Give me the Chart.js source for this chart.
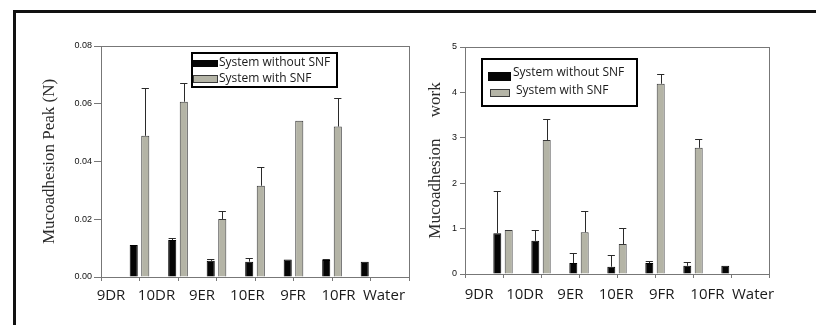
<!DOCTYPE html>
<html>
<head>
<meta charset="utf-8">
<script src="https://cdn.jsdelivr.net/npm/chart.js@4.4.1/dist/chart.umd.min.js"></script>
<style>
  html, body { margin: 0; padding: 0; background: #fff; }
  body { width: 816px; height: 325px; position: relative; overflow: hidden; }
  .frame { position: absolute; left: 13px; top: 10px; width: 900px; height: 400px;
           border-top: 3px solid #111; border-left: 3px solid #111; }
  .panel { position: absolute; top: 0; height: 325px; }
  #peakPanel { left: 0; width: 412px; }
  #workPanel { left: 410px; width: 406px; }
</style>
</head>
<body>
<div class="frame"></div>
<div class="panel" id="peakPanel"><canvas id="peakChart"></canvas></div>
<div class="panel" id="workPanel"><canvas id="workChart"></canvas></div>

<script>
// categories
const groups = ['9DR', '10DR', '9ER', '10ER', '9FR', '10FR', 'Water'];
const seriesNames = ['System without SNF', 'System with SNF'];

// mucoadhesion peak (N)
const peakWithout = [0.0111, 0.0128, 0.0056, 0.0053, 0.0061, 0.0059, 0.0053];
const peakWithoutErr = [0, 0.0008, 0.0005, 0.0014, 0, 0.0003, 0];
const peakWith = [0.0489, 0.0607, 0.0201, 0.0316, 0.0541, 0.0521, null];
const peakWithErr = [0.0165, 0.0064, 0.0029, 0.0066, 0, 0.0098, 0];
const peakTicks = [0, 0.02, 0.04, 0.06, 0.08];

// mucoadhesion work
const workWithout = [0.90, 0.73, 0.24, 0.16, 0.24, 0.18, 0.18];
const workWithoutErr = [0.93, 0.24, 0.23, 0.26, 0.05, 0.08, 0];
const workWith = [0.97, 2.95, 0.92, 0.66, 4.19, 2.78, null];
const workWithErr = [0, 0.46, 0.47, 0.36, 0.22, 0.20, 0];
const workTicks = [0, 1, 2, 3, 4, 5];

const colors = {
  without: '#050505',
  withFill: '#b4b4a6',
  withBorder: '#3a3a3a',
  axis: '#777',
  error: '#2a2a2a',
  text: '#1a1a1a',
};

// pad with an empty slot at each end so groups sit on ticks 1..7 of 0..8
const pad = (arr) => [null, ...arr, null];

const errorBars = {
  id: 'errorBars',
  afterDatasetsDraw(chart) {
    const { ctx } = chart;
    const yScale = chart.scales.y;
    chart.data.datasets.forEach((ds, di) => {
      const meta = chart.getDatasetMeta(di);
      (ds.errors || []).forEach((err, i) => {
        const bar = meta.data[i];
        const value = ds.data[i];
        if (!bar || value == null || !err) return;
        const yBase = yScale.getPixelForValue(value);
        const yTop = yScale.getPixelForValue(value + err);
        const half = bar.width * 0.45;
        ctx.save();
        ctx.strokeStyle = colors.error;
        ctx.lineWidth = 1;
        ctx.beginPath();
        ctx.moveTo(Math.round(bar.x) + 0.5, yBase);
        ctx.lineTo(Math.round(bar.x) + 0.5, Math.round(yTop) + 0.5);
        ctx.moveTo(bar.x - half, Math.round(yTop) + 0.5);
        ctx.lineTo(bar.x + half, Math.round(yTop) + 0.5);
        ctx.stroke();
        ctx.restore();
      });
    });
  },
};

const plotFrame = {
  id: 'plotFrame',
  beforeDatasetsDraw(chart) {
    const { ctx, chartArea: a } = chart;
    ctx.save();
    ctx.strokeStyle = colors.axis;
    ctx.lineWidth = 1;
    ctx.strokeRect(Math.round(a.left) + 0.5, Math.round(a.top) + 0.5,
      Math.round(a.right - a.left), Math.round(a.bottom - a.top));
    ctx.restore();
  },
};

const boxLegend = {
  id: 'boxLegend',
  afterDraw(chart, args, opts) {
    if (!opts || !opts.box) return;
    const { ctx } = chart;
    const [bx, by, bw, bh] = opts.box;
    ctx.save();
    ctx.fillStyle = '#fff';
    ctx.fillRect(bx, by, bw, bh);
    ctx.strokeStyle = '#000';
    ctx.lineWidth = 2;
    ctx.strokeRect(bx + 1, by + 1, bw - 2, bh - 2);
    ctx.font = opts.font;
    ctx.textBaseline = 'middle';
    ctx.textAlign = 'left';
    chart.data.datasets.forEach((ds, i) => {
      const row = opts.rows[i];
      const [sx, sy, sw, sh] = row.swatch;
      ctx.fillStyle = ds.backgroundColor;
      ctx.fillRect(sx, sy, sw, sh);
      if (ds.borderColor && ds.backgroundColor !== colors.without) {
        ctx.strokeStyle = ds.borderColor;
        ctx.lineWidth = 1;
        ctx.strokeRect(sx + 0.5, sy + 0.5, sw - 1, sh - 1);
      }
      ctx.fillStyle = colors.text;
      ctx.fillText(ds.label, row.text[0], row.text[1]);
    });
    ctx.restore();
  },
};

function buildChart(canvasId, cfg) {
  const ctx = document.getElementById(canvasId);
  return new Chart(ctx, {
    type: 'bar',
    data: {
      labels: pad(groups).map((g) => g || ''),
      datasets: [
        {
          label: seriesNames[0],
          data: pad(cfg.without),
          errors: pad(cfg.withoutErr),
          backgroundColor: colors.without,
          borderColor: '#000',
          borderWidth: 1,
          categoryPercentage: 0.6,
          barPercentage: 0.7,
        },
        {
          label: seriesNames[1],
          data: pad(cfg.with),
          errors: pad(cfg.withErr),
          backgroundColor: colors.withFill,
          borderColor: colors.withBorder,
          borderWidth: 1,
          categoryPercentage: 0.6,
          barPercentage: 0.7,
        },
      ],
    },
    options: {
      responsive: true,
      maintainAspectRatio: false,
      animation: false,
      layout: { padding: cfg.padding },
      scales: {
        x: {
          type: 'category',
          position: 'bottom',
          offset: false,
          ticks: { display: false },
          grid: {
            display: true,
            offset: false,
            drawOnChartArea: false,
            drawTicks: true,
            tickLength: 4,
            color: colors.axis,
          },
          border: { display: false },
          afterFit: (s) => { s.height = 4; },
        },
        // the printed group names sit on their own spacing, apart from the bar ticks
        xl: {
          type: 'linear',
          position: 'bottom',
          offset: false,
          min: cfg.labelRange[0],
          max: cfg.labelRange[1],
          afterBuildTicks: (s) => { s.ticks = groups.map((_, i) => ({ value: i })); },
          ticks: {
            autoSkip: false,
            maxRotation: 0,
            padding: cfg.labelPadding,
            color: colors.text,
            font: { family: 'Open Sans', size: 15 },
            callback: (v) => groups[v],
          },
          grid: { display: false, drawTicks: false, offset: false },
          border: { display: false },
          afterFit: (s) => { s.height = cfg.labelHeight; },
        },
        y: {
          min: cfg.yTicks[0],
          max: cfg.yTicks[cfg.yTicks.length - 1],
          afterBuildTicks: (s) => { s.ticks = cfg.yTicks.map((v) => ({ value: v })); },
          ticks: {
            padding: cfg.yTickPadding,
            color: '#111',
            font: { family: 'Liberation Sans', size: 9 },
            callback: cfg.yFormat,
          },
          grid: {
            display: true,
            drawOnChartArea: false,
            drawTicks: true,
            tickLength: cfg.yTickLength,
            color: colors.axis,
          },
          border: { display: false },
          title: {
            display: true,
            text: cfg.yTitle,
            color: '#2a2a2a',
            font: { family: 'Liberation Serif', size: 17 },
            padding: { top: cfg.titlePad, bottom: 0 },
          },
          afterFit: (s) => { s.width = cfg.yWidth; },
        },
      },
      plugins: {
        legend: { display: false },
        tooltip: { enabled: false },
        boxLegend: cfg.legend,
      },
    },
    plugins: [plotFrame, errorBars, boxLegend],
  });
}

buildChart('peakChart', {
  without: peakWithout,
  withoutErr: peakWithoutErr,
  with: peakWith,
  withErr: peakWithErr,
  yTicks: peakTicks,
  yFormat: (v) => Number(v).toFixed(2),
  yTitle: 'Mucoadhesion Peak (N)',
  yWidth: 101,
  yTickLength: 7,
  yTickPadding: 2,
  titlePad: 39,
  padding: { top: 46, right: 3, left: 0, bottom: 0 },
  labelRange: [-0.22, 6.55],
  labelHeight: 44,
  labelPadding: 6,
  legend: {
    box: [191, 52, 147, 36],
    font: '12px "Open Sans"',
    rows: [
      { swatch: [193, 60, 25, 7], text: [219, 63] },
      { swatch: [193, 75, 25, 8], text: [219, 79] },
    ],
  },
});

buildChart('workChart', {
  without: workWithout,
  withoutErr: workWithoutErr,
  with: workWith,
  withErr: workWithErr,
  yTicks: workTicks,
  yFormat: (v) => String(v),
  yTitle: 'Mucoadhesion     work',
  yWidth: 55,
  yTickLength: 5,
  yTickPadding: 3,
  titlePad: 15,
  padding: { top: 47, right: 47, left: 0, bottom: 0 },
  labelRange: [-0.31, 6.35],
  labelHeight: 47,
  labelPadding: 8,
  legend: {
    box: [71, 58, 157, 49],
    font: '12px "Open Sans"',
    rows: [
      { swatch: [78, 72, 23, 9], text: [103, 73] },
      { swatch: [80, 89, 20, 8], text: [106, 91] },
    ],
  },
});
</script>
</body>
</html>
